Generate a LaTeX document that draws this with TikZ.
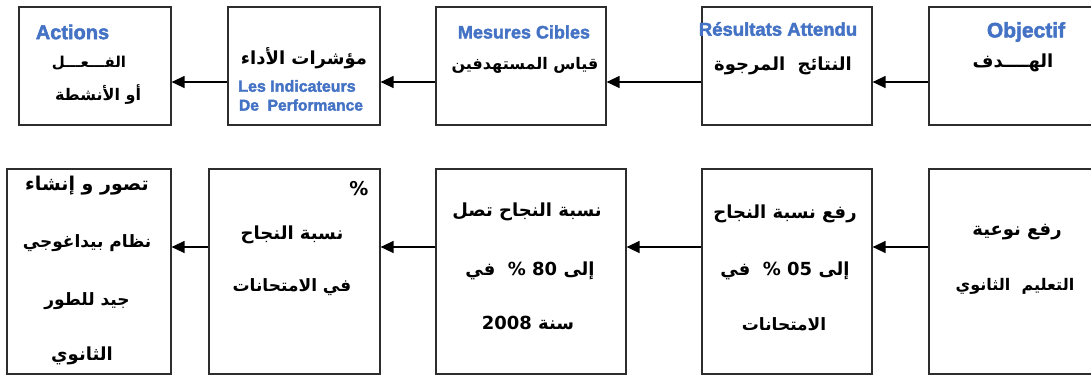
\documentclass[tikz,border=0pt]{standalone}
\usepackage{fontspec}
\usetikzlibrary{arrows.meta,calc}
\TeXXeTstate=1
\setmainfont{Liberation Sans}
\newfontfamily\arabicfont[Script=Arabic]{DejaVu Sans}
\newfontfamily\latinbold[FakeBold=2.2]{Liberation Sans}
\definecolor{titleblue}{RGB}{68,114,196}
\definecolor{boxline}{RGB}{45,45,45}
\newcommand\artxt[2][18]{{\fontsize{#1}{#1}\arabicfont\bfseries\beginR #2\endR}}
\newcommand\lattxt[2][18]{{\fontsize{#1}{#1}\latinbold\bfseries\color{titleblue}#2}}
\tikzset{
  x=1pt, y=-1pt,
  stage/.style={draw=boxline, line width=1.2pt, fill=white, inner sep=0pt, minimum height=#1},
  stage/.default=118pt,
  label/.style={inner sep=0pt, anchor=center},
  flow/.style={draw=black, line width=1.3pt, -{Triangle[length=13pt,width=12pt]}}
}
\begin{document}
\begin{tikzpicture}
\useasboundingbox (0,0) rectangle (1091,376);

% top row of stages
\node[stage, minimum width=152pt] (t1) at (95,66) {};
\node[stage, minimum width=152pt] (t2) at (304,66) {};
\node[stage, minimum width=170pt] (t3) at (521,66) {};
\node[stage, minimum width=170pt] (t4) at (787,66) {};
\node[stage, minimum width=172pt] (t5) at (1015,66) {};

% bottom row of stages
\node[stage=205pt, minimum width=164pt] (b1) at (89,271.5) {};
\node[stage=205pt, minimum width=171pt] (b2) at (294.5,271.5) {};
\node[stage=205pt, minimum width=190pt] (b3) at (531,271.5) {};
\node[stage=205pt, minimum width=170pt] (b4) at (787,271.5) {};
\node[stage=205pt, minimum width=172pt] (b5) at (1015,271.5) {};

% arrows, right to left
\draw[flow] ($(t5.west)+(0,16)$) -- ($(t4.east)+(0,16)$);
\draw[flow] ($(t4.west)+(0,16)$) -- ($(t3.east)+(0,16)$);
\draw[flow] ($(t3.west)+(0,16)$) -- ($(t2.east)+(0,16)$);
\draw[flow] ($(t2.west)+(0,16)$) -- ($(t1.east)+(0,16)$);
\draw[flow] ($(b5.west)+(0,-24.5)$) -- ($(b4.east)+(0,-24.5)$);
\draw[flow] ($(b4.west)+(0,-24.5)$) -- ($(b3.east)+(0,-24.5)$);
\draw[flow] ($(b3.west)+(0,-24.5)$) -- ($(b2.east)+(0,-24.5)$);
\draw[flow] ($(b2.west)+(0,-24.5)$) -- ($(b1.east)+(0,-24.5)$);

% top row texts
\node[label] (t1a) at (72.5,32) {\lattxt[20]{Actions}};
\node[label] (t1b) at (89,63) {\artxt[15]{الفـــعـــل}};
\node[label] (t1c) at (98,95) {\artxt[16]{أو الأنشطة}};

\node[label] (t2a) at (304,58) {\artxt{مؤشرات الأداء}};
\node[label] (t2b) at (297,86) {\lattxt[16]{Les Indicateurs}};
\node[label] (t2c) at (301,105) {\lattxt[15.6]{De\ \ Performance}};

\node[label] (t3a) at (524,32) {\lattxt[18]{Mesures Cibles}};
\node[label] (t3b) at (525,65) {\artxt[16]{قياس المستهدفين}};

\node[label] (t4a) at (778,29) {\lattxt[18.5]{Résultats Attendu}};
\node[label] (t4b) at (783,66) {\artxt{النتائج\ \ المرجوة}};

\node[label] (t5a) at (1026,32) {\lattxt[21]{Objectif}};
\node[label] (t5b) at (1013,63) {\artxt{الهــــدف}};

% bottom row texts
\node[label] (b1a) at (87,186) {\artxt[19]{تصور و إنشاء}};
\node[label] (b1b) at (87,243) {\artxt[17]{نظام بيداغوجي}};
\node[label] (b1c) at (87,301) {\artxt[17]{جيد للطور}};
\node[label] (b1d) at (82,356) {\artxt{الثانوي}};

\node[label] (b2a) at (359,189) {\artxt[19]{\%}};
\node[label] (b2b) at (292,235) {\artxt{نسبة النجاح}};
\node[label] (b2c) at (292,287) {\artxt[17]{في الامتحانات}};

\node[label] (b3a) at (527,212) {\artxt{نسبة النجاح تصل}};
\node[label] (b3b) at (530,271) {\artxt{إلى \beginL 80\endL{} \%\ \ في}};
\node[label] (b3c) at (528,323) {\artxt{سنة \beginL 2008\endL}};

\node[label] (b4a) at (785,214) {\artxt{رفع نسبة النجاح}};
\node[label] (b4b) at (785,271) {\artxt{إلى \beginL 05\endL{} \%\ \ في}};
\node[label] (b4c) at (784,324) {\artxt[17]{الامتحانات}};

\node[label] (b5a) at (1017,232) {\artxt{رفع نوعية}};
\node[label] (b5b) at (1015,286) {\artxt[16]{التعليم\ \ الثانوي}};
\end{tikzpicture}
\end{document}
